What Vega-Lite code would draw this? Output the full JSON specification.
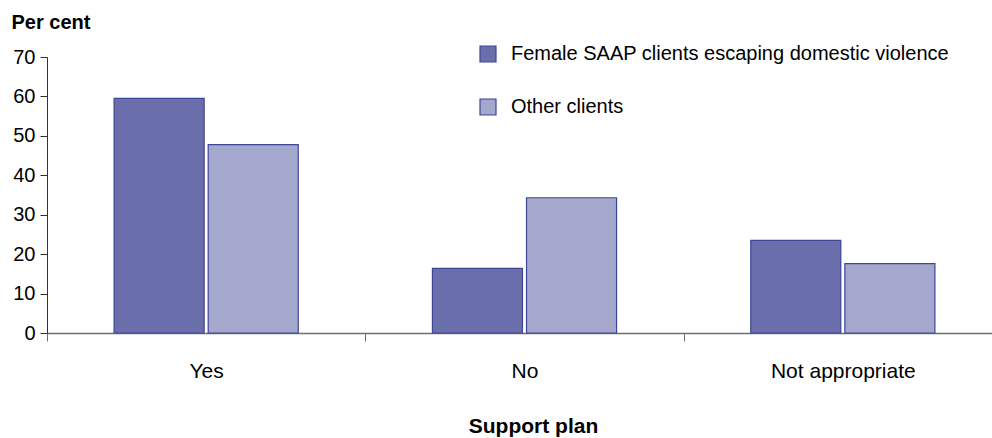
{
  "$schema": "https://vega.github.io/schema/vega-lite/v6.json",
  "width": 945,
  "height": 276,
  "autosize": {"type": "none"},
  "padding": {"left": 47, "top": 57, "right": 0, "bottom": 105},
  "background": "white",
  "config": {
    "font": "Liberation Sans",
    "view": {"stroke": null}
  },
  "data": {
    "values": [
      {"plan": "Yes", "group": "Female SAAP clients escaping domestic violence", "value": 59.5},
      {"plan": "Yes", "group": "Other clients", "value": 47.8},
      {"plan": "No", "group": "Female SAAP clients escaping domestic violence", "value": 16.4},
      {"plan": "No", "group": "Other clients", "value": 34.3},
      {"plan": "Not appropriate", "group": "Female SAAP clients escaping domestic violence", "value": 23.5},
      {"plan": "Not appropriate", "group": "Other clients", "value": 17.6}
    ]
  },
  "mark": {"type": "bar", "stroke": "#3d4597", "strokeWidth": 1.2},
  "encoding": {
    "x": {
      "field": "plan",
      "type": "nominal",
      "sort": ["Yes", "No", "Not appropriate"],
      "scale": {"paddingInner": 0, "paddingOuter": 0, "range": [0, 955]},
      "axis": {
        "title": "Support plan",
        "titleFontSize": 21,
        "titleFontWeight": "bold",
        "titleColor": "#000000",
        "titleX": 486,
        "titleY": 99,
        "titleBaseline": "alphabetic",
        "labelAngle": 0,
        "labelFontSize": 21,
        "labelColor": "#000000",
        "labelPadding": 19,
        "tickBand": "extent",
        "tickSize": 8,
        "tickColor": "#6e6e6e",
        "domainColor": "#6e6e6e",
        "domainWidth": 1.5,
        "grid": false
      }
    },
    "xOffset": {
      "field": "group",
      "type": "nominal",
      "scale": {"paddingInner": 0.043, "paddingOuter": 0.713}
    },
    "y": {
      "field": "value",
      "type": "quantitative",
      "scale": {"domain": [0, 70]},
      "axis": {
        "values": [0, 10, 20, 30, 40, 50, 60, 70],
        "title": "Per cent",
        "titleAngle": 0,
        "titleFontSize": 20,
        "titleFontWeight": "bold",
        "titleColor": "#000000",
        "titleX": -36,
        "titleY": -29,
        "titleAlign": "left",
        "titleBaseline": "alphabetic",
        "labelFontSize": 20,
        "labelColor": "#000000",
        "labelPadding": 5,
        "tickSize": 7,
        "tickColor": "#333333",
        "domainColor": "#333333",
        "grid": false
      }
    },
    "fill": {
      "field": "group",
      "type": "nominal",
      "scale": {"range": ["#6a6fac", "#a5a8cd"]},
      "legend": {
        "title": null,
        "orient": "none",
        "legendX": 431,
        "legendY": -13,
        "symbolType": "square",
        "symbolSize": 256,
        "symbolStrokeColor": "#3d4597",
        "symbolStrokeWidth": 1.2,
        "labelFontSize": 20,
        "labelColor": "#000000",
        "labelOffset": 13,
        "rowPadding": 31,
        "labelLimit": 600
      }
    }
  }
}
